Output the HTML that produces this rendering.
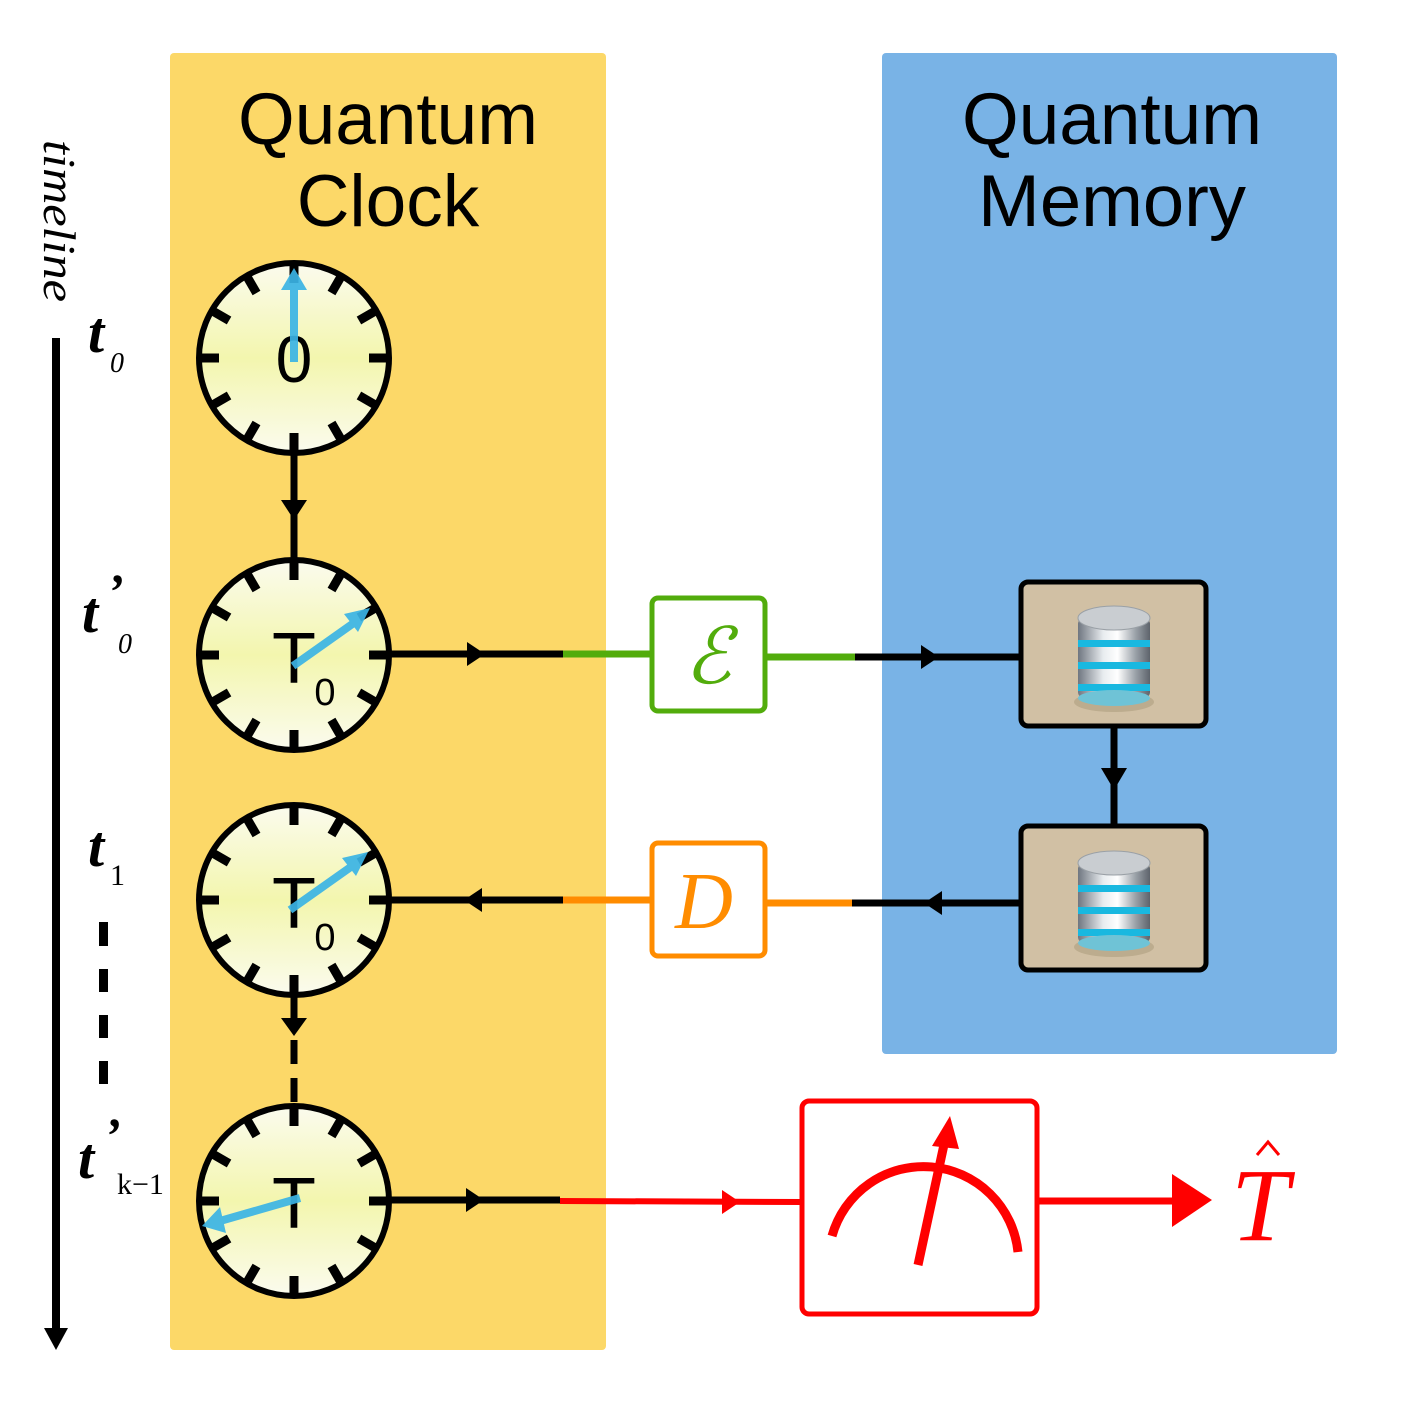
<!DOCTYPE html>
<html><head><meta charset="utf-8"><style>
html,body{margin:0;padding:0;background:#fff}
svg{display:block}
</style></head><body>
<svg width="1417" height="1417" viewBox="0 0 1417 1417" xmlns="http://www.w3.org/2000/svg">
<defs>
<linearGradient id="face2" x1="0" y1="0" x2="0" y2="1">
<stop offset="0" stop-color="#FBFBEE"/><stop offset="0.5" stop-color="#F3F6AE"/><stop offset="1" stop-color="#FBFBEE"/>
</linearGradient>
<g id="clock">
<circle cx="0" cy="0" r="95" fill="url(#face2)" stroke="#000" stroke-width="6"/>
<g stroke="#000" stroke-width="9">
<line x1="0" y1="-95" x2="0" y2="-75"/>
<line x1="0" y1="-95" x2="0" y2="-75" transform="rotate(30)"/>
<line x1="0" y1="-95" x2="0" y2="-75" transform="rotate(60)"/>
<line x1="0" y1="-95" x2="0" y2="-75" transform="rotate(90)"/>
<line x1="0" y1="-95" x2="0" y2="-75" transform="rotate(120)"/>
<line x1="0" y1="-95" x2="0" y2="-75" transform="rotate(150)"/>
<line x1="0" y1="-95" x2="0" y2="-75" transform="rotate(180)"/>
<line x1="0" y1="-95" x2="0" y2="-75" transform="rotate(210)"/>
<line x1="0" y1="-95" x2="0" y2="-75" transform="rotate(240)"/>
<line x1="0" y1="-95" x2="0" y2="-75" transform="rotate(270)"/>
<line x1="0" y1="-95" x2="0" y2="-75" transform="rotate(300)"/>
<line x1="0" y1="-95" x2="0" y2="-75" transform="rotate(330)"/>
</g>
</g>
<linearGradient id="metal" x1="0" y1="0" x2="1" y2="0">
<stop offset="0" stop-color="#6f7680"/><stop offset="0.35" stop-color="#e8ecef"/><stop offset="0.55" stop-color="#ffffff"/><stop offset="0.8" stop-color="#9aa1a8"/><stop offset="1" stop-color="#5d636b"/>
</linearGradient>
<g id="db">
<ellipse cx="0" cy="48" rx="40" ry="10" fill="#a89878" opacity="0.5"/>
<rect x="-36" y="-36" width="72" height="80" rx="6" fill="url(#metal)"/>
<rect x="-36" y="-14" width="72" height="7" fill="#19b8e0"/>
<rect x="-36" y="8" width="72" height="7" fill="#19b8e0"/>
<rect x="-36" y="30" width="72" height="7" fill="#19b8e0"/>
<ellipse cx="0" cy="44" rx="36" ry="8" fill="#6fc3d6"/>
<ellipse cx="0" cy="-36" rx="36" ry="12" fill="#c9cdd1" stroke="#9aa0a6" stroke-width="1"/>
</g>
</defs>

<rect x="170" y="53" width="436" height="1297" rx="4" fill="#FCD868"/>
<rect x="882" y="53" width="455" height="1001" rx="4" fill="#79B3E6"/>

<g font-family="Liberation Sans, DejaVu Sans, sans-serif" font-size="73" fill="#000" text-anchor="middle">
<text x="388" y="144" textLength="300" lengthAdjust="spacingAndGlyphs">Quantum</text>
<text x="388" y="226">Clock</text>
<text x="1112" y="144" textLength="300" lengthAdjust="spacingAndGlyphs">Quantum</text>
<text x="1112" y="226" textLength="268" lengthAdjust="spacingAndGlyphs">Memory</text>
</g>

<text transform="translate(44,140) rotate(90)" font-family="Liberation Serif, serif" font-style="italic" font-size="46" fill="#000" textLength="162" lengthAdjust="spacingAndGlyphs">timeline</text>
<line x1="56" y1="338" x2="56" y2="1330" stroke="#000" stroke-width="8"/>
<polygon points="44,1328 68,1328 56,1350" fill="#000"/>
<g fill="#000">
<rect x="99" y="922" width="9" height="24"/><rect x="99" y="969" width="9" height="23"/>
<rect x="99" y="1015" width="9" height="23"/><rect x="99" y="1061" width="9" height="23"/>
</g>
<g font-family="Liberation Serif, serif" font-style="italic" font-weight="bold" fill="#000">
<text x="88" y="352" font-size="58">t</text>
<text x="110" y="372" font-size="28" font-weight="normal">0</text>
<text x="82" y="632" font-size="58">t</text>
<text x="107" y="608" font-size="50">’</text>
<text x="118" y="653" font-size="28" font-weight="normal">0</text>
<text x="88" y="866" font-size="58">t</text>
<text x="78" y="1178" font-size="58">t</text>
<text x="104" y="1152" font-size="50">’</text>
</g>
<text x="110" y="885" font-family="Liberation Serif, serif" font-size="30" fill="#000">1</text>
<text x="117" y="1194" font-family="Liberation Serif, serif" font-size="30" fill="#000">k−1</text>

<line x1="294" y1="450" x2="294" y2="562" stroke="#000" stroke-width="7"/>
<polygon points="281,500 307,500 294,520" fill="#000"/>
<line x1="294" y1="995" x2="294" y2="1030" stroke="#000" stroke-width="7"/>
<polygon points="281,1018 307,1018 294,1036" fill="#000"/>
<line x1="294" y1="1040" x2="294" y2="1105" stroke="#000" stroke-width="7" stroke-dasharray="24,14"/>

<use href="#clock" x="294" y="358"/>
<use href="#clock" x="294" y="655"/>
<use href="#clock" x="294" y="900"/>
<use href="#clock" x="294" y="1201"/>

<g font-family="Liberation Sans, DejaVu Sans, sans-serif" fill="#000">
<text x="294" y="382" text-anchor="middle" font-size="66">0</text>
<text x="294" y="683" text-anchor="middle" font-size="72">T</text>
<text x="325" y="705" text-anchor="middle" font-size="38">0</text>
<text x="294" y="928" text-anchor="middle" font-size="72">T</text>
<text x="325" y="950" text-anchor="middle" font-size="38">0</text>
<text x="294" y="1228" text-anchor="middle" font-size="72">T</text>
</g>

<g stroke="#3BB4E5" stroke-width="8" fill="#3BB4E5" opacity="0.92">
<line x1="294" y1="362" x2="294" y2="285"/>
<polygon points="281,290 307,290 294,268" stroke="none"/>
<line x1="293" y1="666" x2="358" y2="620"/>
<polygon points="344,614 370,608 358,632" stroke="none"/>
<line x1="290" y1="910" x2="355" y2="864"/>
<polygon points="342,858 368,852 356,876" stroke="none"/>
<line x1="300" y1="1198" x2="220" y2="1221"/>
<polygon points="220,1207 202,1226 226,1233" stroke="none"/>
</g>

<line x1="390" y1="654" x2="563" y2="654" stroke="#000" stroke-width="7"/>
<polygon points="467,642 485,654 467,666" fill="#000"/>
<line x1="563" y1="654" x2="651" y2="654" stroke="#52AC0C" stroke-width="7"/>
<line x1="766" y1="657" x2="855" y2="657" stroke="#52AC0C" stroke-width="7"/>
<line x1="855" y1="657" x2="1022" y2="657" stroke="#000" stroke-width="7"/>
<polygon points="921,645 939,657 921,669" fill="#000"/>
<rect x="652" y="598" width="113" height="113" rx="6" fill="#fff" stroke="#52AC0C" stroke-width="5"/>
<text x="708" y="683" text-anchor="middle" font-family="DejaVu Serif, serif" font-style="italic" font-size="78" fill="#52AC0C">ℰ</text>

<line x1="390" y1="900" x2="563" y2="900" stroke="#000" stroke-width="7"/>
<polygon points="482,888 464,900 482,912" fill="#000"/>
<line x1="563" y1="900" x2="651" y2="900" stroke="#FF8C00" stroke-width="7"/>
<line x1="766" y1="903" x2="852" y2="903" stroke="#FF8C00" stroke-width="7"/>
<line x1="852" y1="903" x2="1022" y2="903" stroke="#000" stroke-width="7"/>
<polygon points="942,891 924,903 942,915" fill="#000"/>
<rect x="652" y="843" width="113" height="113" rx="6" fill="#fff" stroke="#FF8C00" stroke-width="5"/>
<text x="704" y="928" text-anchor="middle" font-family="Liberation Serif, serif" font-style="italic" font-size="80" fill="#FF8C00">D</text>

<line x1="1114" y1="725" x2="1114" y2="828" stroke="#000" stroke-width="7"/>
<polygon points="1101,768 1127,768 1114,790" fill="#000"/>
<rect x="1021" y="582" width="185" height="144" rx="7" fill="#D1C0A4" stroke="#000" stroke-width="5"/>
<rect x="1021" y="826" width="185" height="144" rx="7" fill="#D1C0A4" stroke="#000" stroke-width="5"/>
<use href="#db" x="1114" y="654"/>
<use href="#db" x="1114" y="899"/>

<line x1="390" y1="1200" x2="560" y2="1200" stroke="#000" stroke-width="7"/>
<polygon points="466,1188 484,1200 466,1212" fill="#000"/>
<line x1="560" y1="1201" x2="802" y2="1202" stroke="#F00" stroke-width="6"/>
<polygon points="722,1190 740,1202 722,1214" fill="#F00"/>
<rect x="802" y="1101" width="235" height="213" rx="7" fill="#fff" stroke="#F00" stroke-width="5"/>
<path d="M832,1236 A95,95 0 0 1 1018,1252" fill="none" stroke="#F00" stroke-width="9"/>
<line x1="918" y1="1265" x2="945" y2="1140" stroke="#F00" stroke-width="9"/>
<polygon points="932,1146 950,1116 959,1149" fill="#F00"/>
<line x1="1037" y1="1201" x2="1175" y2="1201" stroke="#F00" stroke-width="7"/>
<polygon points="1172,1174 1212,1200 1172,1227" fill="#F00"/>
<text x="1260" y="1240" text-anchor="middle" font-family="Liberation Serif, serif" font-style="italic" font-size="104" fill="#F00">T</text>
<polyline points="1257,1155 1268,1142 1279,1155" fill="none" stroke="#F00" stroke-width="3"/>
</svg>
</body></html>
